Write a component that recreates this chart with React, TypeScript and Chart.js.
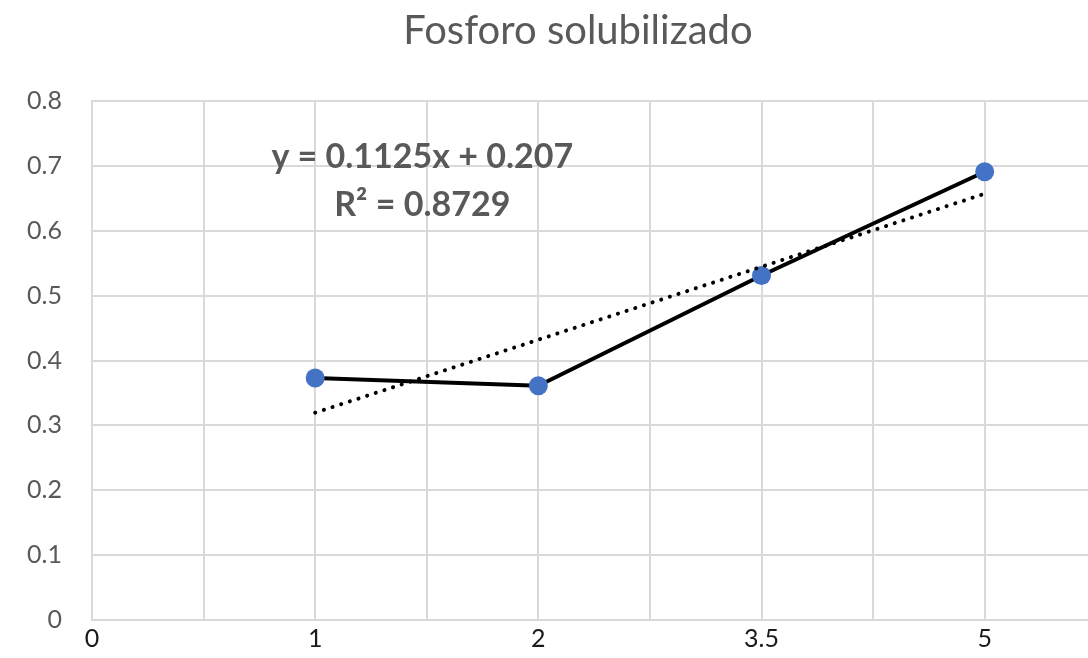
import React, { useEffect, useRef } from "react";
import { Chart, registerables } from "chart.js";

Chart.register(...registerables);

const titleText = "Fosforo solubilizado";
const categories = ["0", "1", "2", "3.5", "5"];
const seriesCategories = ["1", "2", "3.5", "5"];
const seriesValues = [0.373, 0.361, 0.531, 0.691];
const trendSlope = 0.1125;
const trendIntercept = 0.207;
const trendR2 = 0.8729;
const yTicks = [0, 0.1, 0.2, 0.3, 0.4, 0.5, 0.6, 0.7, 0.8];

const FONT = "Lato, 'Open Sans', sans-serif";
const CANVAS_W = 1108;
const CANVAS_H = 665;

export default function App() {
  const ref = useRef<HTMLCanvasElement | null>(null);

  useEffect(() => {
    if (!ref.current) return;
    const pts = seriesCategories.map((c, i) => ({ x: categories.indexOf(c), y: seriesValues[i] }));
    const firstIdx = categories.indexOf(seriesCategories[0]);
    const lastIdx = categories.indexOf(seriesCategories[seriesCategories.length - 1]);
    const trend = [
      { x: firstIdx, y: trendSlope * firstIdx + trendIntercept },
      { x: lastIdx, y: trendSlope * lastIdx + trendIntercept },
    ];

    const textPlugin = {
      id: "texts",
      afterDatasetsDraw(chart: any) {
        const { ctx, scales } = chart;
        ctx.save();
        ctx.fillStyle = "#595959";
        ctx.font = `normal 40px ${FONT}`;
        ctx.textAlign = "center";
        ctx.textBaseline = "alphabetic";
        ctx.fillText(titleText, 578, 44);
        const x = scales.x.getPixelForValue(1.48);
        const y1 = scales.y.getPixelForValue(0.714);
        const y2 = scales.y.getPixelForValue(0.639);
        ctx.font = `bold 34px ${FONT}`;
        ctx.textBaseline = "middle";
        ctx.fillText(`y = ${trendSlope}x + ${trendIntercept}`, x, y1);
        ctx.fillText(`R² = ${trendR2}`, x, y2);
        ctx.restore();
      },
    };

    const chart = new Chart(ref.current, {
      type: "scatter",
      data: {
        datasets: [
          {
            label: "trend",
            data: trend,
            showLine: true,
            borderColor: "#000000",
            borderWidth: 4,
            borderDash: [0.1, 9],
            borderCapStyle: "round",
            pointRadius: 0,
            fill: false,
          } as any,
          {
            label: "Fosforo",
            data: pts,
            showLine: true,
            borderColor: "#000000",
            borderWidth: 4,
            pointRadius: 9.5,
            pointHoverRadius: 9.5,
            pointBackgroundColor: "#4472C4",
            pointBorderColor: "#4472C4",
            pointBorderWidth: 0,
            fill: false,
          },
        ],
      },
      options: {
        animation: false,
        responsive: false,
        maintainAspectRatio: false,
        layout: { padding: { top: 101, right: 0, left: 0, bottom: 0 } },
        plugins: {
          legend: { display: false },
          tooltip: { enabled: false },
          title: { display: false },
        },
        scales: {
          x: {
            type: "linear",
            min: 0,
            max: 4.51,
            afterBuildTicks: (s: any) => {
              s.ticks = [];
              for (let v = 0; v <= 4.5; v += 0.5) s.ticks.push({ value: v });
            },
            afterFit: (s: any) => {
              s.height = 38;
            },
            grid: { color: "#d9d9d9", lineWidth: 2, drawTicks: false },
            border: { display: true, color: "#d9d9d9", width: 2 },
            ticks: {
              autoSkip: false,
              maxRotation: 0,
              padding: 4,
              color: "#1a1a1a",
              font: { family: FONT, size: 25 },
              callback: (v: any) => (Number.isInteger(v) ? categories[v] : ""),
            },
          },
          y: {
            min: 0,
            max: 0.8,
            afterBuildTicks: (s: any) => {
              s.ticks = yTicks.map((v) => ({ value: v }));
            },
            afterFit: (s: any) => {
              s.width = 92;
            },
            grid: { color: "#d9d9d9", lineWidth: 2, drawTicks: false },
            border: { display: true, color: "#d9d9d9", width: 2 },
            ticks: {
              padding: 30,
              color: "#595959",
              font: { family: FONT, size: 25 },
              callback: (v: any) => String(Number(Number(v).toFixed(1))),
            },
          },
        },
      },
      plugins: [textPlugin],
    });
    return () => chart.destroy();
  }, []);

  return (
    <div
      style={{
        position: "fixed",
        left: 0,
        top: 0,
        width: 1088,
        height: 658,
        overflow: "hidden",
        background: "#fff",
      }}
    >
      <canvas ref={ref} width={CANVAS_W} height={CANVAS_H} style={{ display: "block" }} />
    </div>
  );
}
